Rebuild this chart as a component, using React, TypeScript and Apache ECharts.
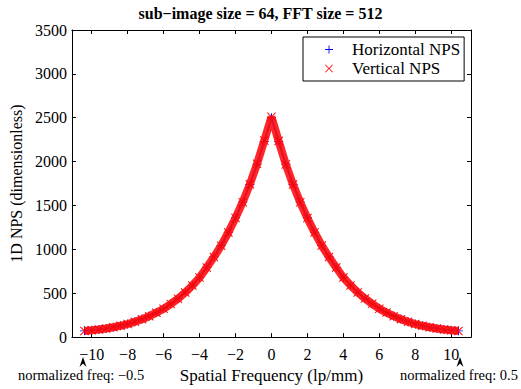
import React, { useEffect, useRef } from 'react';
import * as echarts from 'echarts';

const FONT = 'Liberation Serif';

const freqs = [
  -10.4, -10.0, -9.6, -9.2, -8.8, -8.4, -8.0, -7.6, -7.2, -6.8, -6.4, -6.0, -5.6, -5.2,
  -4.8, -4.4, -4.0, -3.6, -3.2, -2.8, -2.4, -2.0, -1.6, -1.2, -0.8, -0.4, 0.0,
  0.4, 0.8, 1.2, 1.6, 2.0, 2.4, 2.8, 3.2, 3.6, 4.0, 4.4, 4.8, 5.2, 5.6, 6.0, 6.4,
  6.8, 7.2, 7.6, 8.0, 8.4, 8.8, 9.2, 9.6, 10.0, 10.4,
];

const horizontalNps = [
  71, 78, 88, 99, 113, 130, 150, 175, 205, 240, 280, 325, 380, 440,
  510, 590, 680, 795, 915, 1045, 1195, 1360, 1540, 1740, 1970, 2230, 2500,
  2230, 1970, 1740, 1540, 1360, 1195, 1045, 915, 795, 680, 590, 510, 440, 380, 325, 280,
  240, 205, 175, 150, 130, 113, 99, 88, 78, 71,
];

const verticalNps = [
  69, 77, 87, 98, 112, 129, 149, 174, 204, 238, 278, 322, 378, 438,
  508, 588, 678, 792, 912, 1042, 1192, 1358, 1538, 1742, 1975, 2240, 2510,
  2235, 1968, 1738, 1536, 1356, 1193, 1043, 913, 793, 679, 589, 509, 439, 379, 324, 279,
  239, 204, 174, 149, 129, 112, 98, 87, 77, 70,
];

const PLUS = 'path://M4.45,0 H5.55 V4.45 H10 V5.55 H5.55 V10 H4.45 V5.55 H0 V4.45 H4.45 Z';
const CROSS = 'path://M0,0.75 L0.75,0 L5,4.25 L9.25,0 L10,0.75 L5.75,5 L10,9.25 L9.25,10 L5,5.75 L0.75,10 L0,9.25 L4.25,5 Z';

const fmtTick = (v: number) => {
  if (Math.abs(v - Math.round(v)) > 1e-6) return '';
  return v < 0 ? '\u2212' + Math.abs(v) : String(v);
};

export default function App() {
  const ref = useRef<HTMLDivElement>(null);
  useEffect(() => {
    const chart = echarts.init(ref.current!, null, { renderer: 'svg' });
    const axisCommon = {
      axisLine: { show: true, onZero: false, lineStyle: { color: '#000', width: 1 } },
      axisTick: { show: true, inside: true, length: 4, lineStyle: { color: '#000' } },
      splitLine: { show: false },
    };
    chart.setOption({
      animation: false,
      backgroundColor: '#fff',
      textStyle: { fontFamily: FONT },
      title: {
        text: 'sub\u2212image size = 64, FFT size = 512',
        left: 'center',
        top: 0,
        padding: [5, 0, 5, 20],
        textStyle: { fontFamily: FONT, fontWeight: 'bold', fontSize: 16, color: '#000' },
      },
      legend: {
        left: 303,
        top: 37,
        orient: 'vertical',
        align: 'left',
        padding: [4, 4, 4, 22],
        itemWidth: 36,
        itemHeight: 8,
        itemGap: 2,
        borderColor: '#000',
        borderWidth: 1,
        borderRadius: 0,
        backgroundColor: '#fff',
        textStyle: { fontFamily: FONT, fontSize: 17, color: '#000' },
        data: [
          { name: 'Horizontal NPS', icon: PLUS },
          { name: 'Vertical NPS', icon: CROSS },
        ],
      },
      grid: { left: 71, right: 50, top: 30, bottom: 45 },
      xAxis: [
        {
          type: 'value',
          min: -11.1,
          max: 11.1,
          splitNumber: 11,
          position: 'bottom',
          ...axisCommon,
          axisLabel: {
            show: true,
            margin: 9,
            showMinLabel: false,
            showMaxLabel: false,
            formatter: fmtTick,
            fontFamily: FONT,
            fontSize: 16,
            color: '#000',
          },
          name: 'Spatial Frequency (lp/mm)',
          nameLocation: 'middle',
          nameGap: 24,
          nameTextStyle: { fontFamily: FONT, fontSize: 17, color: '#000' },
        },
        {
          type: 'value',
          min: -11.1,
          max: 11.1,
          splitNumber: 11,
          position: 'top',
          ...axisCommon,
          axisLabel: { show: false },
        },
      ],
      yAxis: [
        {
          type: 'value',
          min: 0,
          max: 3500,
          interval: 500,
          position: 'left',
          ...axisCommon,
          axisLabel: {
            show: true,
            margin: 5,
            formatter: (v: number) => String(v),
            fontFamily: FONT,
            fontSize: 16,
            color: '#000',
          },
          name: '1D NPS (dimensionless)',
          nameLocation: 'middle',
          nameGap: 42,
          nameTextStyle: { fontFamily: FONT, fontSize: 16, color: '#000' },
        },
        {
          type: 'value',
          min: 0,
          max: 3500,
          interval: 500,
          position: 'right',
          ...axisCommon,
          axisLabel: { show: false },
        },
      ],
      series: [
        {
          name: 'Horizontal NPS',
          type: 'line',
          xAxisIndex: 0,
          yAxisIndex: 0,
          data: freqs.map((f, i) => [f, horizontalNps[i]]),
          symbol: PLUS,
          symbolSize: 9,
          showSymbol: true,
          itemStyle: { color: '#0000ff' },
          lineStyle: { color: '#0000ff', width: 2 },
          z: 2,
        },
        {
          name: 'Vertical NPS',
          type: 'line',
          xAxisIndex: 0,
          yAxisIndex: 0,
          data: freqs.map((f, i) => [f, verticalNps[i]]),
          symbol: CROSS,
          symbolSize: 9,
          showSymbol: true,
          itemStyle: { color: '#ff0000' },
          lineStyle: { color: '#ff1010', width: 8, opacity: 0.9 },
          z: 3,
        },
      ],
      graphic: [
        {
          type: 'text',
          left: 18,
          top: 367,
          style: { text: 'normalized freq: \u22120.5', fontFamily: FONT, fontSize: 14.5, fill: '#000' },
        },
        {
          type: 'text',
          left: 400,
          top: 367,
          style: { text: 'normalized freq: 0.5', fontFamily: FONT, fontSize: 14.5, fill: '#000' },
        },
        {
          type: 'polygon',
          shape: { points: [[83, 357], [86.5, 367], [83, 363.5], [79.5, 367]] },
          style: { fill: '#000' },
        },
        {
          type: 'polygon',
          shape: { points: [[460, 357], [463.5, 367], [460, 363.5], [456.5, 367]] },
          style: { fill: '#000' },
        },
      ],
    });
    return () => chart.dispose();
  }, []);
  return <div ref={ref} style={{ position: 'fixed', left: 0, top: 0, width: 521, height: 389 }} />;
}
